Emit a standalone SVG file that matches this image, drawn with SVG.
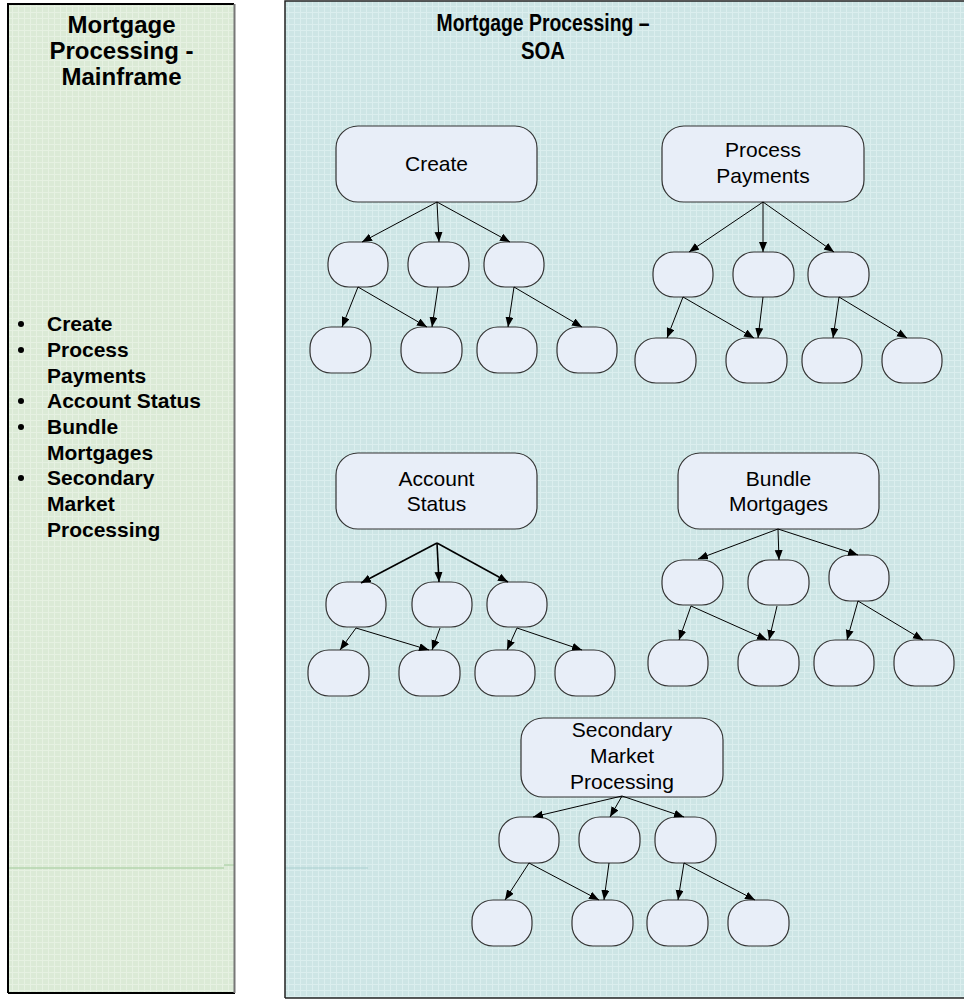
<svg xmlns="http://www.w3.org/2000/svg" width="964" height="999" viewBox="0 0 964 999">
<defs>
<marker id="arr" markerUnits="userSpaceOnUse" markerWidth="11" markerHeight="9" refX="10" refY="4" orient="auto">
<path d="M0,0 L10,4 L0,8 z" fill="#000"/>
</marker>
<pattern id="gridG" width="6" height="6" patternUnits="userSpaceOnUse">
<rect width="6" height="6" fill="#dbead6"/>
<path d="M0,0.5 H6 M0.5,0 V6" stroke="#e6f1e2" stroke-width="1"/>
</pattern>
<pattern id="gridB" width="6" height="6" patternUnits="userSpaceOnUse">
<rect width="6" height="6" fill="#cde5e5"/>
<path d="M0,0.5 H6 M0.5,0 V6" stroke="#dbeeee" stroke-width="1"/>
</pattern>
</defs>
<style>
.title{font-family:"Liberation Sans",Arial,sans-serif;font-weight:bold;fill:#000;text-anchor:middle}
.bul{font-family:"Liberation Sans",Arial,sans-serif;font-weight:bold;font-size:21px;fill:#000}
.lbl{font-family:"Liberation Sans",Arial,sans-serif;font-size:21px;fill:#000;text-anchor:middle}
.root{fill:#e8eef8;stroke:#333;stroke-width:1.2}
.leaf{fill:#e8eef8;stroke:#333;stroke-width:1.2}
.con line{stroke:#000;stroke-width:1;marker-end:url(#arr)}
.con .thick line{stroke-width:1.6}
</style>

<g id="panel-mainframe">
<rect x="8" y="4" width="227" height="989" fill="url(#gridG)"/>
<line x1="8" y1="868" x2="224" y2="868" stroke="#b5d4ae" stroke-width="1.5"/>
<line x1="224" y1="865" x2="235" y2="865" stroke="#b5d4ae" stroke-width="1.5"/>
<path d="M8,993 V4 H234" fill="none" stroke="#000" stroke-width="2"/>
<line x1="8" y1="993" x2="235" y2="993" stroke="#000" stroke-width="2"/>
<line x1="234.5" y1="4" x2="234.5" y2="993" stroke="#777" stroke-width="2"/>
<text class="title" font-size="24"><tspan x="121.5" y="33">Mortgage</tspan><tspan x="121.5" y="59">Processing -</tspan><tspan x="121.5" y="85">Mainframe</tspan></text>
<g id="bullets">
<circle cx="21" cy="324" r="3"/>
<circle cx="21" cy="350" r="3"/>
<circle cx="21" cy="401" r="3"/>
<circle cx="21" cy="427" r="3"/>
<circle cx="21" cy="478" r="3"/>
<text class="bul"><tspan x="47" y="331">Create</tspan><tspan x="47" y="357">Process</tspan><tspan x="47" y="383">Payments</tspan><tspan x="47" y="408">Account Status</tspan><tspan x="47" y="434">Bundle</tspan><tspan x="47" y="460">Mortgages</tspan><tspan x="47" y="485">Secondary</tspan><tspan x="47" y="511">Market</tspan><tspan x="47" y="537">Processing</tspan></text>
</g>
</g>

<g id="panel-soa">
<rect x="285" y="1" width="680" height="997" fill="url(#gridB)"/>
<line x1="285" y1="868" x2="368" y2="868" stroke="#a9cfcf" stroke-width="1.2"/>
<path d="M285,998 V1 H964" fill="none" stroke="#222" stroke-width="1.5"/>
<line x1="285" y1="998" x2="964" y2="998" stroke="#222" stroke-width="1.5"/>
<text class="title" font-size="23.5"><tspan x="543" y="31" textLength="213" lengthAdjust="spacingAndGlyphs">Mortgage Processing –</tspan></text>
<text class="title" font-size="23.5"><tspan x="543" y="59" textLength="44" lengthAdjust="spacingAndGlyphs">SOA</tspan></text>
</g>

<g id="tree-create">
<g id="create-root"><rect class="root" x="336" y="126" width="201" height="76" rx="22"/><text class="lbl" x="436.5" y="171">Create</text></g>
<rect class="leaf" x="328" y="242" width="60" height="45" rx="21"/>
<rect class="leaf" x="408" y="242" width="61" height="45" rx="21"/>
<rect class="leaf" x="484" y="242" width="60" height="45" rx="21"/>
<rect class="leaf" x="310" y="327" width="61" height="46" rx="21"/>
<rect class="leaf" x="401" y="327" width="61" height="46" rx="21"/>
<rect class="leaf" x="477" y="327" width="60" height="46" rx="21"/>
<rect class="leaf" x="557" y="327" width="60" height="46" rx="21"/>
</g>

<g id="tree-payments">
<g id="payments-root"><rect class="root" x="662" y="126" width="202" height="76" rx="22"/><text class="lbl"><tspan x="763" y="157">Process</tspan><tspan x="763" y="183">Payments</tspan></text></g>
<rect class="leaf" x="653" y="252" width="60" height="45" rx="21"/>
<rect class="leaf" x="733" y="252" width="61" height="45" rx="21"/>
<rect class="leaf" x="808" y="252" width="61" height="45" rx="21"/>
<rect class="leaf" x="635" y="338" width="61" height="45" rx="21"/>
<rect class="leaf" x="726" y="338" width="61" height="45" rx="21"/>
<rect class="leaf" x="802" y="338" width="60" height="45" rx="21"/>
<rect class="leaf" x="882" y="338" width="60" height="45" rx="21"/>
</g>

<g id="tree-account">
<g id="account-root"><rect class="root" x="336" y="453" width="201" height="76" rx="22"/><text class="lbl"><tspan x="436.5" y="486">Account</tspan><tspan x="436.5" y="511">Status</tspan></text></g>
<rect class="leaf" x="326" y="582" width="60" height="45" rx="21"/>
<rect class="leaf" x="412" y="582" width="60" height="45" rx="21"/>
<rect class="leaf" x="487" y="582" width="60" height="45" rx="21"/>
<rect class="leaf" x="308" y="650" width="61" height="46" rx="21"/>
<rect class="leaf" x="399" y="650" width="61" height="46" rx="21"/>
<rect class="leaf" x="475" y="650" width="60" height="46" rx="21"/>
<rect class="leaf" x="555" y="650" width="60" height="46" rx="21"/>
</g>

<g id="tree-bundle">
<g id="bundle-root"><rect class="root" x="678" y="453" width="201" height="76" rx="22"/><text class="lbl"><tspan x="778.5" y="486">Bundle</tspan><tspan x="778.5" y="511">Mortgages</tspan></text></g>
<rect class="leaf" x="662" y="560" width="61" height="45" rx="21"/>
<rect class="leaf" x="748" y="560" width="61" height="45" rx="21"/>
<rect class="leaf" x="829" y="555" width="60" height="46" rx="21"/>
<rect class="leaf" x="648" y="640" width="60" height="46" rx="21"/>
<rect class="leaf" x="738" y="640" width="61" height="46" rx="21"/>
<rect class="leaf" x="814" y="640" width="60" height="46" rx="21"/>
<rect class="leaf" x="894" y="640" width="60" height="46" rx="21"/>
</g>

<g id="tree-secondary">
<g id="secondary-root"><rect class="root" x="521" y="718" width="202" height="79" rx="22"/><text class="lbl"><tspan x="622" y="737">Secondary</tspan><tspan x="622" y="763">Market</tspan><tspan x="622" y="789">Processing</tspan></text></g>
<rect class="leaf" x="499" y="817" width="60" height="46" rx="21"/>
<rect class="leaf" x="579" y="817" width="61" height="46" rx="21"/>
<rect class="leaf" x="655" y="817" width="61" height="46" rx="21"/>
<rect class="leaf" x="472" y="900" width="60" height="46" rx="21"/>
<rect class="leaf" x="572" y="900" width="61" height="46" rx="21"/>
<rect class="leaf" x="647" y="900" width="61" height="46" rx="21"/>
<rect class="leaf" x="728" y="900" width="61" height="46" rx="21"/>
</g>

<g id="connectors" class="con">
<line x1="437" y1="202" x2="362" y2="242"/>
<line x1="437" y1="202" x2="439" y2="242"/>
<line x1="437" y1="202" x2="510" y2="242"/>
<line x1="358" y1="287" x2="342" y2="327"/>
<line x1="358" y1="287" x2="427" y2="327"/>
<line x1="438" y1="287" x2="432" y2="327"/>
<line x1="514" y1="287" x2="508" y2="327"/>
<line x1="514" y1="287" x2="582" y2="327"/>

<line x1="763" y1="202" x2="689" y2="252"/>
<line x1="763" y1="202" x2="763" y2="252"/>
<line x1="763" y1="202" x2="834" y2="252"/>
<line x1="683" y1="297" x2="667" y2="338"/>
<line x1="683" y1="297" x2="754" y2="338"/>
<line x1="763" y1="297" x2="758" y2="338"/>
<line x1="839" y1="297" x2="833" y2="338"/>
<line x1="839" y1="297" x2="907" y2="338"/>

<g class="thick">
<line x1="437" y1="543" x2="361" y2="583"/>
<line x1="437" y1="543" x2="439" y2="582"/>
<line x1="437" y1="543" x2="508" y2="582"/>
</g>
<line x1="356" y1="628" x2="340" y2="650"/>
<line x1="356" y1="628" x2="429" y2="650"/>
<line x1="440" y1="628" x2="432" y2="650"/>
<line x1="517" y1="628" x2="507" y2="650"/>
<line x1="517" y1="628" x2="582" y2="650"/>

<line x1="778" y1="529" x2="698" y2="559"/>
<line x1="778" y1="529" x2="779" y2="560"/>
<line x1="778" y1="529" x2="858" y2="555"/>
<line x1="691" y1="606" x2="679" y2="640"/>
<line x1="691" y1="606" x2="767" y2="640"/>
<line x1="777" y1="606" x2="769" y2="640"/>
<line x1="858" y1="601" x2="847" y2="640"/>
<line x1="858" y1="601" x2="923" y2="640"/>

<line x1="622" y1="796" x2="533" y2="817"/>
<line x1="622" y1="796" x2="610" y2="817"/>
<line x1="622" y1="796" x2="684" y2="817"/>
<line x1="529" y1="863" x2="505" y2="900"/>
<line x1="529" y1="863" x2="599" y2="900"/>
<line x1="609" y1="863" x2="604" y2="900"/>
<line x1="684" y1="863" x2="678" y2="900"/>
<line x1="684" y1="863" x2="755" y2="900"/>
</g>
</svg>
